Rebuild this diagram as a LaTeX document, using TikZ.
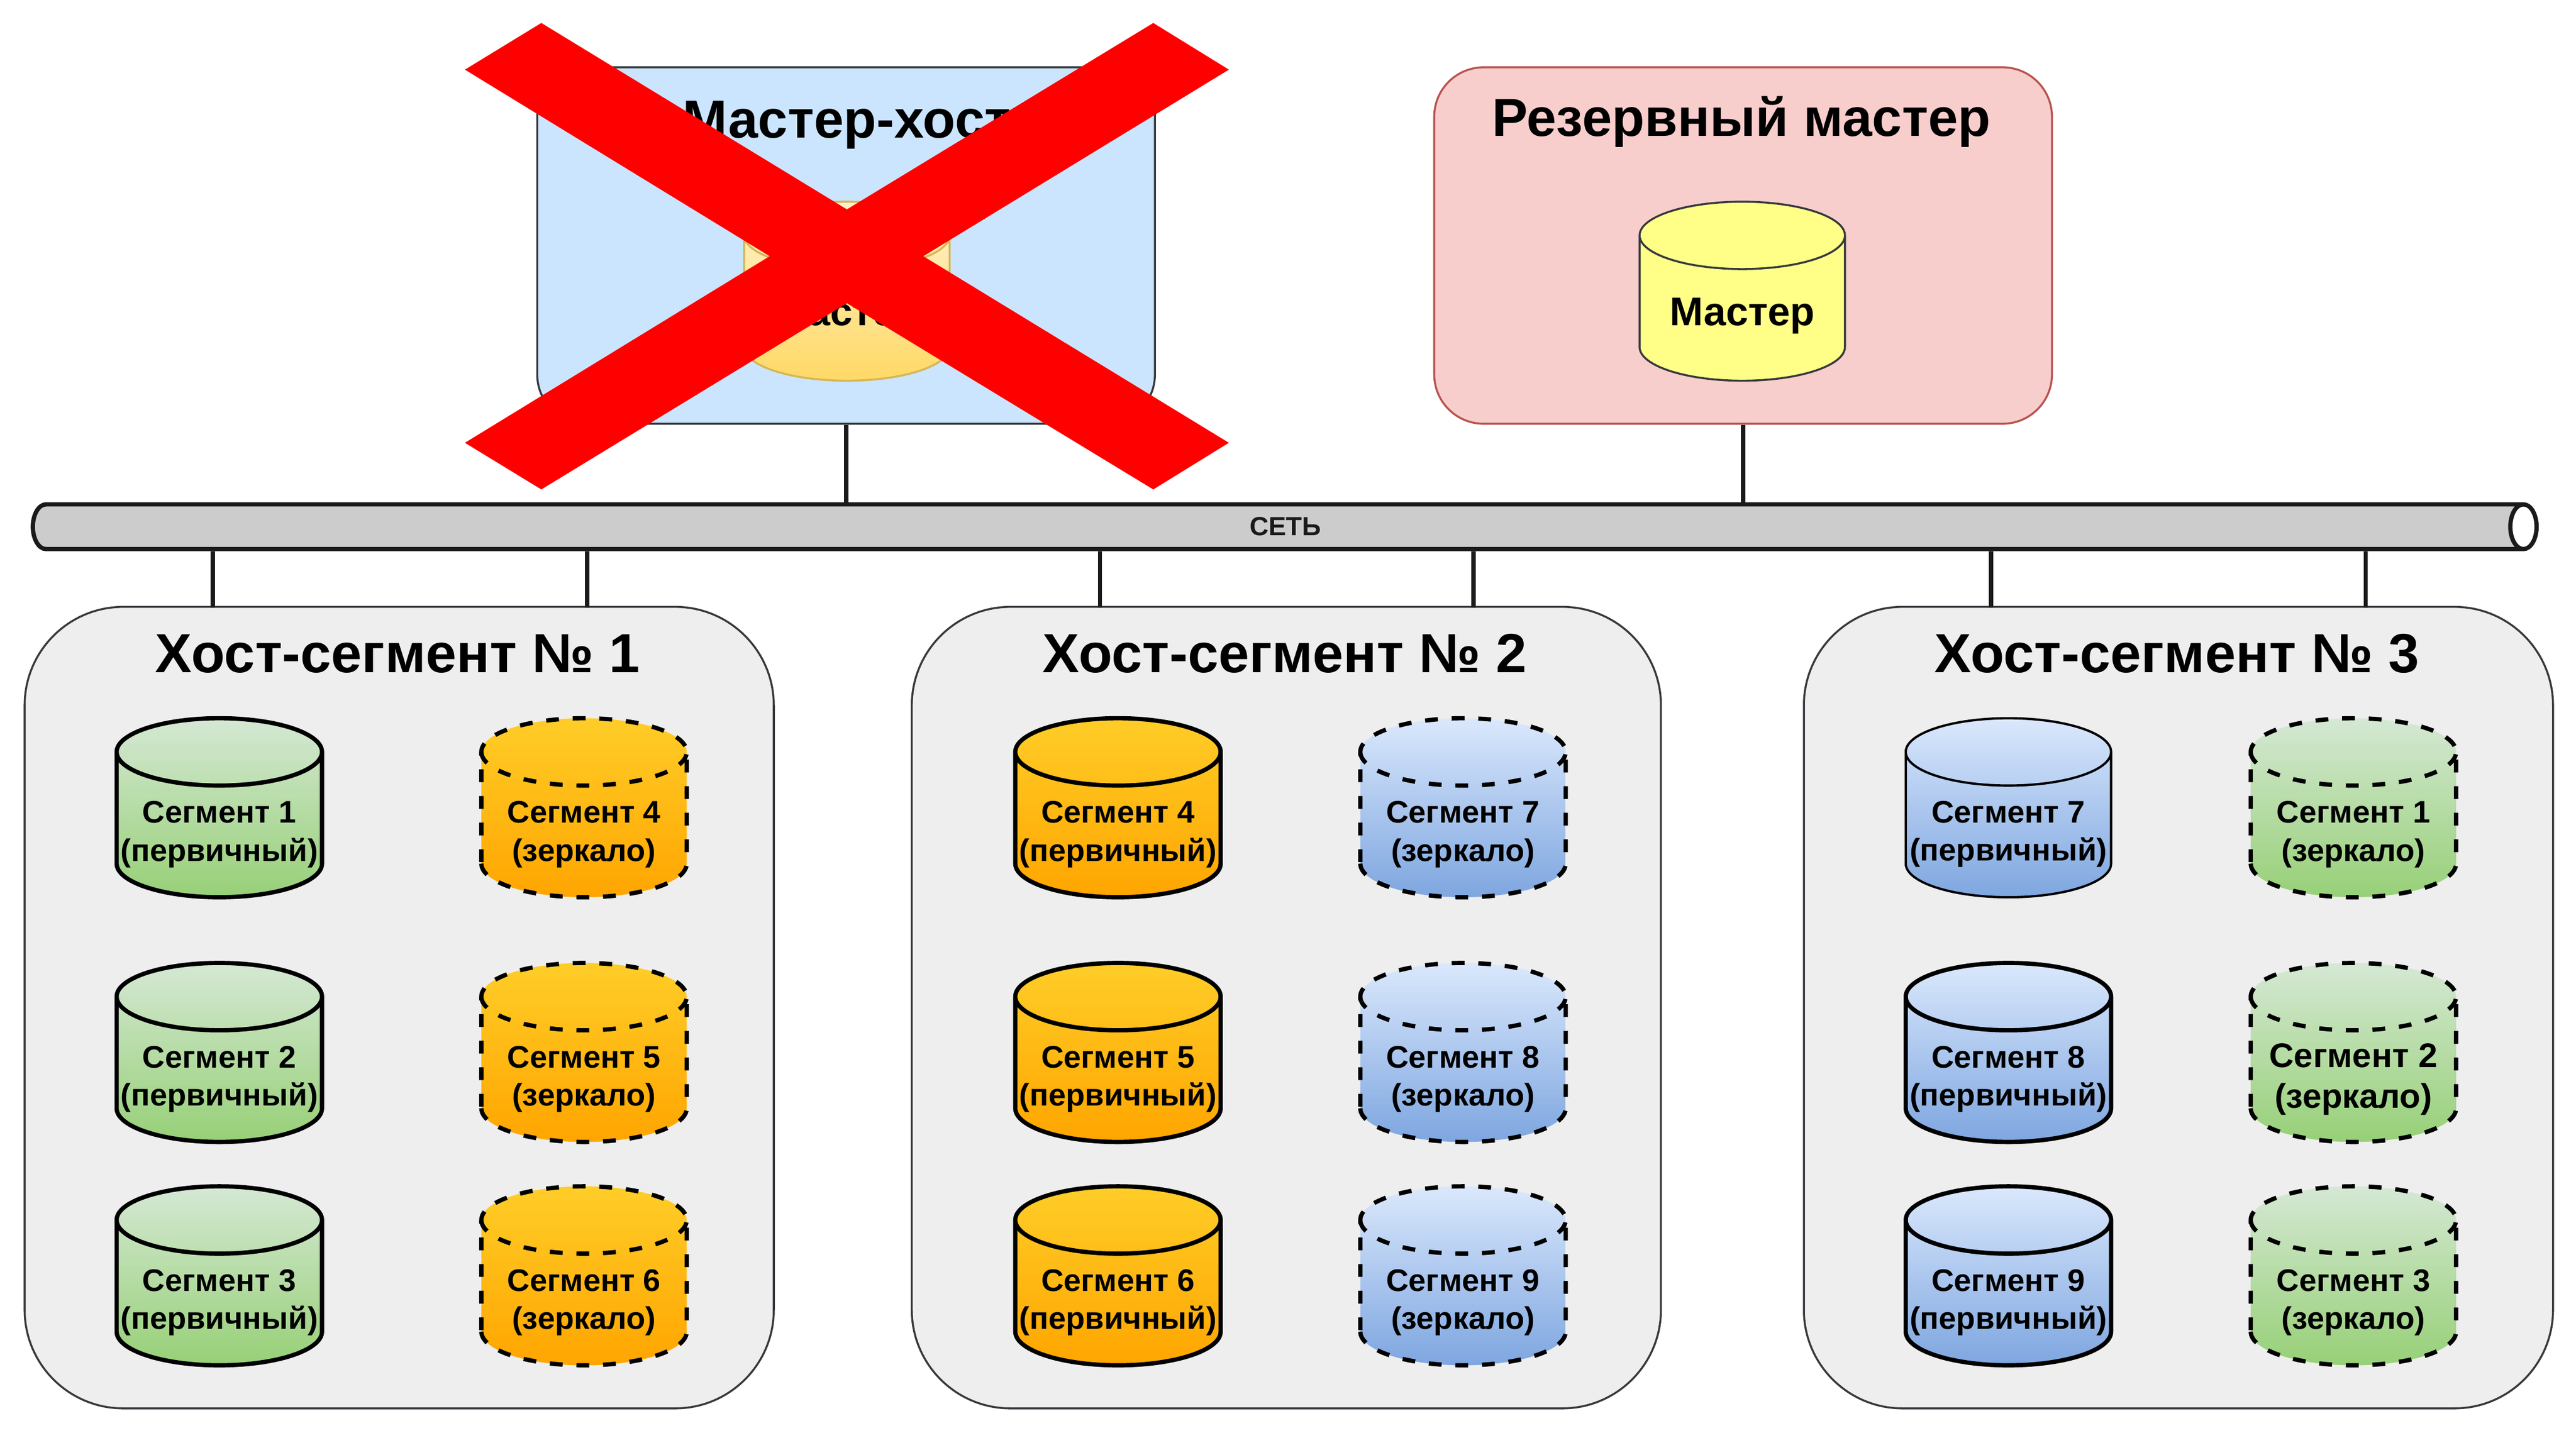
\documentclass[tikz,border=0pt]{standalone}
\usepackage{fontspec}
\setmainfont{Liberation Sans}
\usetikzlibrary{shapes.geometric}
\definecolor{boxline}{HTML}{36393D}
\definecolor{netline}{HTML}{1A1A1A}
\definecolor{gA}{HTML}{D5E8D4}
\definecolor{gB}{HTML}{97D077}
\definecolor{oA}{HTML}{FFCD28}
\definecolor{oB}{HTML}{FFA500}
\definecolor{bA}{HTML}{DAE8FC}
\definecolor{bB}{HTML}{7EA6E0}
\definecolor{yA}{HTML}{FFF2CC}
\definecolor{yB}{HTML}{FFD966}
\definecolor{yline}{HTML}{D6B656}
\definecolor{note}{HTML}{FFFF88}
\definecolor{skyfill}{HTML}{CCE5FF}
\definecolor{pinkfill}{HTML}{F8CECC}
\definecolor{pinkline}{HTML}{B85450}
\definecolor{pipefill}{HTML}{CCCCCC}
\definecolor{hostfill}{HTML}{EEEEEE}
\tikzset{
  hostbox/.style={draw=boxline, line width=0.6pt, fill=#1, rounded corners=15pt, inner sep=0pt},
  mainbox/.style={hostbox=#1, minimum width=188pt, minimum height=108.5pt},
  segbox/.style={hostbox=hostfill, rounded corners=30pt, minimum width=228pt, minimum height=244pt},
  maintitle/.style={font=\fontsize{16.3}{20}\selectfont\bfseries, inner sep=0pt},
  hosttitle/.style={font=\fontsize{16.8}{20}\selectfont\bfseries, inner sep=0pt},
  % the end curves of a cylinder follow the size of its text box
  can/.style={cylinder, shape border rotate=90, aspect=1, text width=20.5pt, minimum width=62.5pt, minimum height=54.5pt,
    inner sep=0pt, anchor=shape center},
  cantext/.style={align=center, inner sep=0pt, text width=, yshift=-2.7pt, font=\fontsize{9.5}{11.6}\selectfont\bfseries},
  bigtext/.style={inner sep=0pt, text width=, yshift=-2.2pt, font=\fontsize{12.2}{14}\selectfont\bfseries},
  greencan/.style={can, shade, top color=gA, bottom color=gB},
  orangecan/.style={can, shade, top color=oA, bottom color=oB},
  bluecan/.style={can, shade, top color=bA, bottom color=bB},
  prim/.style={draw=black, line width=1.3pt},
  mirr/.style={prim, dash pattern=on 3.9pt off 4.2pt},
  link/.style={draw=netline, line width=1.3pt},
}
\begin{document}
\begin{tikzpicture}[x=0.5pt, y=-0.5pt]
  \useasboundingbox (0,0) rectangle (1568,872.2);
  % upper boxes
  \node[mainbox=skyfill] (master) at (515,149.5) {};
  \node[mainbox=pinkfill, draw=pinkline] (standby) at (1061,149.5) {};
  \node[maintitle] (mastertitle) at (515.5,76) {Мастер-хост};
  \node[maintitle] (standbytitle) at (1060,74) {Резервный мастер};
  \node[can, line width=0.6pt, shade, top color=yA, bottom color=yB, draw=yline, label={[bigtext]center:Мастер}] (mastercan) at (515.5,177.3) {};
  \node[can, line width=0.6pt, fill=note, draw=boxline, label={[bigtext]center:Мастер}] (standbycan) at (1060.5,177.3) {};
  % network
  \node[cylinder, aspect=1, text height=8pt, minimum height=762pt, minimum width=13.6pt, inner sep=0pt, line width=1.3pt, draw=netline,
    cylinder uses custom fill, cylinder body fill=pipefill, cylinder end fill=white, anchor=shape center,
    label={[text=netline, text height=, inner sep=0pt, xshift=2.5pt, font=\fontsize{8}{8}\selectfont\bfseries]center:СЕТЬ}] (net) at (782,320.7) {};
  % hosts
  \node[segbox] (host1) at (243,613.5) {};
  \node[segbox] (host2) at (783,613.5) {};
  \node[segbox] (host3) at (1326,613.5) {};
  \node[hosttitle] (host1title) at (242,398) {Хост-сегмент № 1};
  \node[hosttitle] (host2title) at (782,398) {Хост-сегмент № 2};
  \node[hosttitle] (host3title) at (1325,398) {Хост-сегмент № 3};
  % host 1
  \node[greencan, prim, label={[cantext]center:Сегмент 1\\(первичный)}] (a1) at (133.5,491.8) {};
  \node[greencan, prim, label={[cantext]center:Сегмент 2\\(первичный)}] (a2) at (133.5,640.8) {};
  \node[greencan, prim, label={[cantext]center:Сегмент 3\\(первичный)}] (a3) at (133.5,776.8) {};
  \node[orangecan, mirr, label={[cantext]center:Сегмент 4\\(зеркало)}] (a4) at (355.5,491.8) {};
  \node[orangecan, mirr, label={[cantext]center:Сегмент 5\\(зеркало)}] (a5) at (355.5,640.8) {};
  \node[orangecan, mirr, label={[cantext]center:Сегмент 6\\(зеркало)}] (a6) at (355.5,776.8) {};
  % host 2
  \node[orangecan, prim, label={[cantext]center:Сегмент 4\\(первичный)}] (b1) at (680.5,491.8) {};
  \node[orangecan, prim, label={[cantext]center:Сегмент 5\\(первичный)}] (b2) at (680.5,640.8) {};
  \node[orangecan, prim, label={[cantext]center:Сегмент 6\\(первичный)}] (b3) at (680.5,776.8) {};
  \node[bluecan, mirr, label={[cantext]center:Сегмент 7\\(зеркало)}] (b4) at (890.5,491.8) {};
  \node[bluecan, mirr, label={[cantext]center:Сегмент 8\\(зеркало)}] (b5) at (890.5,640.8) {};
  \node[bluecan, mirr, label={[cantext]center:Сегмент 9\\(зеркало)}] (b6) at (890.5,776.8) {};
  % host 3
  \node[bluecan, prim, line width=0.7pt, label={[cantext]center:Сегмент 7\\(первичный)}] (c1) at (1222.5,491.8) {};
  \node[bluecan, prim, label={[cantext]center:Сегмент 8\\(первичный)}] (c2) at (1222.5,640.8) {};
  \node[bluecan, prim, label={[cantext]center:Сегмент 9\\(первичный)}] (c3) at (1222.5,776.8) {};
  \node[greencan, mirr, label={[cantext]center:Сегмент 1\\(зеркало)}] (c4) at (1432.5,491.8) {};
  \node[greencan, mirr, label={[cantext, font=\fontsize{10.4}{12.4}\selectfont\bfseries]center:Сегмент 2\\(зеркало)}] (c5) at (1432.5,640.8) {};
  \node[greencan, mirr, label={[cantext]center:Сегмент 3\\(зеркало)}] (c6) at (1432.5,776.8) {};
  % links
  \coordinate (p1) at (129.5,370);
  \coordinate (p2) at (357.5,370);
  \coordinate (p3) at (669.5,370);
  \coordinate (p4) at (897,370);
  \coordinate (p5) at (1212,370);
  \coordinate (p6) at (1440,370);
  \path[link]
  (master.south) edge (master.south |- net.north)
  (standby.south) edge (standby.south |- net.north)
  (p1) edge (p1 |- net.south)
  (p2) edge (p2 |- net.south)
  (p3) edge (p3 |- net.south)
  (p4) edge (p4 |- net.south)
  (p5) edge (p5 |- net.south)
  (p6) edge (p6 |- net.south);
  % cross
  \fill[red] (329.5,14) -- (515.5,127.5) -- (702,14) -- (748,42.4) -- (562,156) -- (748,269.6) -- (702,298)
    -- (515.5,184.6) -- (329.5,298) -- (283,269.6) -- (468.5,156) -- (283,42.4) -- cycle;
\end{tikzpicture}
\end{document}
